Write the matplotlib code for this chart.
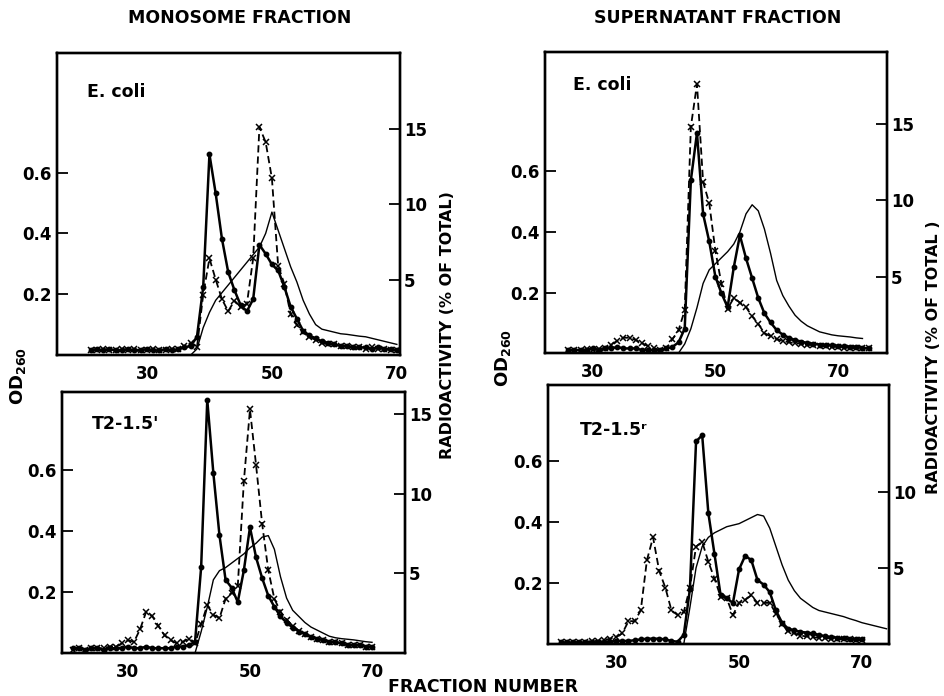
import matplotlib
matplotlib.use('Agg')
import matplotlib.pyplot as plt
import numpy as np

plt.rcParams['font.family'] = ['DejaVu Sans']
plt.rcParams['font.weight'] = 'bold'
plt.rcParams['mathtext.default'] = 'bf'

# ---- monosome fraction, E. coli ----
mono_coli_frac = np.arange(21, 71)
mono_coli_dot = [0.3, 0.4, 0.3, 0.4, 0.3, 0.3, 0.4, 0.3, 0.3, 0.4, 0.3, 0.3, 0.4, 0.3, 0.4, 0.5,
                 0.6, 1.2, 4.5, 13.3, 10.7, 7.7, 5.5, 4.3, 3.3, 2.9, 3.7, 7.3, 6.7, 6.0, 5.6, 4.5,
                 3.2, 2.4, 1.6, 1.3, 1.1, 0.9, 0.8, 0.7, 0.6, 0.6, 0.5, 0.5, 0.5, 0.4, 0.5, 0.4,
                 0.4, 0.3]
mono_coli_cross = [0.3, 0.3, 0.4, 0.3, 0.3, 0.4, 0.3, 0.4, 0.3, 0.3, 0.4, 0.3, 0.3, 0.4, 0.4, 0.6,
                   0.8, 0.5, 4.0, 6.4, 5.0, 3.7, 2.9, 3.6, 3.2, 3.4, 6.4, 15.1, 14.1, 11.7, 5.9, 4.7,
                   2.7, 2.0, 1.5, 1.2, 1.0, 0.8, 0.7, 0.7, 0.6, 0.6, 0.5, 0.5, 0.4, 0.5, 0.4, 0.4,
                   0.3, 0.3]
mono_coli_od_frac = np.arange(37, 71)
mono_coli_od = [0.0, 0.02, 0.09, 0.14, 0.18, 0.205, 0.23, 0.255, 0.28, 0.305, 0.33, 0.355, 0.40,
                0.47, 0.41, 0.35, 0.29, 0.24, 0.18, 0.135, 0.10, 0.085, 0.08, 0.075, 0.07, 0.068,
                0.065, 0.062, 0.06, 0.055, 0.05, 0.045, 0.04, 0.035]

# ---- monosome fraction, T2 1.5 min ----
mono_t2_frac = np.arange(21, 71)
mono_t2_dot = [0.3, 0.3, 0.2, 0.3, 0.3, 0.2, 0.3, 0.3, 0.3, 0.4, 0.3, 0.3, 0.4, 0.3, 0.3, 0.3,
               0.3, 0.4, 0.4, 0.5, 0.7, 5.4, 15.9, 11.3, 7.4, 4.6, 4.1, 3.2, 5.2, 7.9, 6.0, 4.7,
               3.6, 2.9, 2.3, 1.9, 1.6, 1.35, 1.2, 1.0, 0.9, 0.8, 0.7, 0.7, 0.6, 0.5, 0.5, 0.5,
               0.4, 0.4]
mono_t2_cross = [0.2, 0.3, 0.2, 0.3, 0.3, 0.3, 0.4, 0.4, 0.6, 0.8, 0.7, 1.5, 2.6, 2.3, 1.7, 1.1,
                 0.8, 0.6, 0.7, 0.9, 0.6, 1.8, 3.0, 2.4, 2.2, 3.4, 3.8, 4.2, 10.8, 15.3, 11.8, 8.1,
                 5.2, 3.4, 2.6, 2.1, 1.7, 1.4, 1.2, 1.0, 0.9, 0.8, 0.7, 0.7, 0.6, 0.5, 0.5, 0.5,
                 0.4, 0.4]
mono_t2_od_frac = np.arange(41, 71)
mono_t2_od = [0.0, 0.07, 0.15, 0.24, 0.27, 0.28, 0.295, 0.31, 0.325, 0.345, 0.36, 0.38, 0.385,
              0.34, 0.25, 0.18, 0.14, 0.12, 0.10, 0.085, 0.075, 0.065, 0.055, 0.05, 0.047, 0.045,
              0.043, 0.04, 0.037, 0.035]

# ---- supernatant fraction, E. coli ----
sup_coli_frac = np.arange(26, 76)
sup_coli_dot = [0.2, 0.2, 0.2, 0.2, 0.3, 0.2, 0.3, 0.3, 0.4, 0.3, 0.3, 0.3, 0.2, 0.2, 0.2, 0.2,
                0.3, 0.4, 0.7, 1.6, 11.3, 14.4, 9.1, 7.3, 5.0, 3.9, 3.0, 5.6, 7.7, 6.2, 4.9, 3.6,
                2.6, 2.0, 1.5, 1.2, 1.0, 0.85, 0.75, 0.65, 0.6, 0.55, 0.5, 0.5, 0.45, 0.45, 0.4,
                0.4, 0.35, 0.3]
sup_coli_cross = [0.2, 0.2, 0.2, 0.25, 0.2, 0.25, 0.35, 0.55, 0.8, 1.0, 1.0, 0.85, 0.65, 0.45,
                  0.3, 0.2, 0.3, 0.9, 1.5, 2.8, 14.8, 17.6, 11.2, 9.8, 6.7, 4.5, 2.9, 3.6, 3.3,
                  3.0, 2.4, 1.9, 1.3, 1.1, 0.9, 0.8, 0.7, 0.65, 0.6, 0.55, 0.5, 0.45, 0.45, 0.4,
                  0.4, 0.35, 0.35, 0.3, 0.3, 0.3]
sup_coli_od_frac = np.arange(44, 75)
sup_coli_od = [0.0, 0.03, 0.08, 0.15, 0.23, 0.275, 0.295, 0.315, 0.335, 0.36, 0.40, 0.46, 0.49,
               0.47, 0.41, 0.33, 0.24, 0.19, 0.155, 0.125, 0.105, 0.09, 0.08, 0.07, 0.065, 0.06,
               0.057, 0.055, 0.053, 0.05, 0.048]

# ---- supernatant fraction, T2 1.5 min ----
sup_t2_frac = np.arange(21, 71)
sup_t2_dot = [0.1, 0.1, 0.1, 0.1, 0.1, 0.1, 0.1, 0.15, 0.15, 0.2, 0.2, 0.2, 0.25, 0.3, 0.35, 0.35,
              0.35, 0.3, 0.2, 0.15, 0.6, 3.6, 13.3, 13.7, 8.6, 5.9, 3.2, 3.0, 2.7, 4.9, 5.8, 5.5,
              4.2, 3.9, 3.4, 2.2, 1.4, 1.0, 0.9, 0.8, 0.75, 0.7, 0.6, 0.5, 0.45, 0.4, 0.4, 0.35,
              0.3, 0.3]
sup_t2_cross = [0.1, 0.1, 0.1, 0.15, 0.15, 0.2, 0.2, 0.25, 0.35, 0.45, 0.7, 1.5, 1.5, 2.2, 5.5,
                7.0, 4.8, 3.7, 2.2, 1.9, 2.1, 3.7, 6.4, 6.7, 5.4, 4.3, 3.1, 3.0, 1.9, 2.7, 2.9,
                3.2, 2.7, 2.7, 2.7, 2.0, 1.3, 0.85, 0.7, 0.55, 0.5, 0.45, 0.4, 0.4, 0.35, 0.3,
                0.3, 0.3, 0.25, 0.25]
sup_t2_od_frac = np.arange(41, 75)
sup_t2_od = [0.0, 0.12, 0.25, 0.32, 0.35, 0.365, 0.375, 0.385, 0.39, 0.395, 0.405, 0.415, 0.425,
             0.42, 0.38, 0.32, 0.26, 0.21, 0.175, 0.15, 0.135, 0.12, 0.11, 0.105, 0.10, 0.095,
             0.09, 0.083, 0.077, 0.07, 0.065, 0.06, 0.055, 0.05]

od_ticks = [0.2, 0.4, 0.6]
frac_ticks = [30, 50, 70]

fig = plt.figure(figsize=(9.44, 6.96), dpi=100)


def panel(rect, frac, dot, cross, od_frac, od, xlim, od_top, rad_top, rad_ticks, label, lab_xy):
    ax = fig.add_axes(rect)
    # OD260 trace, thin line, left axis
    ax.plot(od_frac, od, color='black', lw=1.0)
    ax.set_xlim(*xlim)
    ax.set_ylim(0, od_top)
    ax.set_yticks(od_ticks)
    ax.set_yticklabels(['0.2', '0.4', '0.6'])
    ax.set_xticks(frac_ticks)
    ax.tick_params(axis='y', direction='in', length=8, width=1.3, labelsize=12, pad=4)
    ax.tick_params(axis='x', length=0, labelsize=12, pad=7)
    for s in ax.spines.values():
        s.set_linewidth(1.7)
    # radioactivity, right axis
    ax2 = ax.twinx()
    ax2.plot(frac, dot, color='black', lw=1.8, marker='o', ms=3.2)
    ax2.plot(frac, cross, color='black', lw=1.3, ls=(0, (4, 2.2)), marker='x', ms=4.5, mew=1.1)
    ax2.set_ylim(0, rad_top)
    ax2.set_yticks(rad_ticks)
    ax2.tick_params(axis='y', direction='in', length=8, width=1.3, labelsize=12, pad=3)
    for s in ax2.spines.values():
        s.set_linewidth(1.7)
    ax.text(lab_xy[0], lab_xy[1], label, transform=ax.transAxes, fontsize=12.5,
            ha='left', va='center')


# top left / bottom left / top right / bottom right
panel([0.0604, 0.4899, 0.3633, 0.4339], mono_coli_frac, mono_coli_dot, mono_coli_cross,
      mono_coli_od_frac, mono_coli_od, (15.6, 70.5), 0.993, 20, [5, 10, 15], 'E. coli', (0.087, 0.87))
panel([0.0657, 0.0618, 0.3633, 0.375], mono_t2_frac, mono_t2_dot, mono_t2_cross,
      mono_t2_od_frac, mono_t2_od, (19.2, 75.4), 0.856, 16.4, [5, 10, 15], "T2-1.5'", (0.087, 0.877))
panel([0.5773, 0.4928, 0.3623, 0.4325], sup_coli_frac, sup_coli_dot, sup_coli_cross,
      sup_coli_od_frac, sup_coli_od, (22.2, 78.0), 0.995, 19.7, [5, 10, 15], 'E. coli', (0.082, 0.89))
panel([0.5805, 0.0747, 0.3612, 0.3721], sup_t2_frac, sup_t2_dot, sup_t2_cross,
      sup_t2_od_frac, sup_t2_od, (18.9, 74.4), 0.85, 17.0, [5, 10], 'T2-1.5ʳ', (0.094, 0.826))

# titles and axis labels shared by the panels
fig.text(240 / 944, 1 - 18 / 696, 'MONOSOME FRACTION', ha='center', va='center', fontsize=12.5)
fig.text(718 / 944, 1 - 18 / 696, 'SUPERNATANT FRACTION', ha='center', va='center', fontsize=12.5)
fig.text(483 / 944, 1 - 687 / 696, 'FRACTION NUMBER', ha='center', va='center', fontsize=12.5)
fig.text(18 / 944, 1 - 376 / 696, r'OD$_{260}$', rotation=90, ha='center', va='center', fontsize=13)
fig.text(503 / 944, 1 - 358 / 696, r'OD$_{260}$', rotation=90, ha='center', va='center', fontsize=13)
fig.text(447 / 944, 1 - 325 / 696, 'RADIOACTIVITY (% OF TOTAL)', rotation=90,
         ha='center', va='center', fontsize=11.5)
fig.text(933 / 944, 1 - 357 / 696, 'RADIOACTIVITY (% OF TOTAL )', rotation=90,
         ha='center', va='center', fontsize=11.5)

fig.savefig('out.png', dpi=100)
